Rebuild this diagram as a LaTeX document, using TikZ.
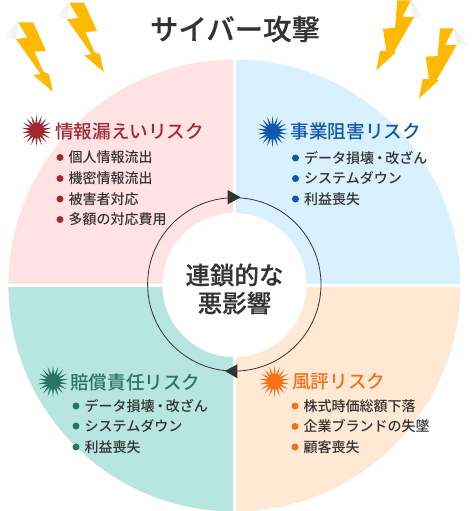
\documentclass[tikz,border=0pt]{standalone}
\usepackage{fontspec}
\usetikzlibrary{shapes.geometric}
\setmainfont{Noto Sans CJK JP}
\newfontfamily\medfont{Noto Sans CJK JP Medium}
\newfontfamily\heavyfont[FakeBold=0.3]{Noto Sans CJK JP Medium}
\definecolor{pinkq}{HTML}{FFE3E4}
\definecolor{blueq}{HTML}{D9F1FC}
\definecolor{tealq}{HTML}{B7E5DF}
\definecolor{peachq}{HTML}{FFE9D4}
\definecolor{redt}{HTML}{9E2A33}
\definecolor{bluet}{HTML}{1158A8}
\definecolor{greent}{HTML}{2A7463}
\definecolor{oranget}{HTML}{F5701B}
\definecolor{ink}{HTML}{333333}
\definecolor{bolt}{HTML}{FFB900}
\tikzset{
  burst/.style={star,star points=18,star point ratio=2.3,fill=#1,draw=none,minimum size=31pt,inner sep=0pt},
  heading/.style={anchor=west,inner sep=0pt,text=#1,font=\medfont\fontsize{18.6pt}{20pt}\selectfont},
  dotmark/.style={circle,fill=#1,draw=none,minimum size=7pt,inner sep=0pt},
  rowtext/.style={anchor=west,inner sep=0pt,text=ink,font=\medfont\fontsize{14pt}{16pt}\selectfont},
  boltshape/.style={fill=bolt,draw=none},
  tip/.style={fill=ink,draw=none},
  ring/.style={draw=ink,line width=.8pt}
}
\newcommand{\riskrow}[6]{%
  \node[dotmark=#4] (#1d) at (#2,#3) {};
  \node[rowtext] (#1t) at (#2+8.5,#3) {#5};
}
\begin{document}
\begin{tikzpicture}[x=1pt,y=-1pt]
\useasboundingbox (0,0) rectangle (474,511);
\fill[white] (0,0) rectangle (474,511);
\begin{scope}
\clip (0,0) rectangle (474,511);
% shadows of bolts
\shade[left color=black!0,right color=black!7] (3,37) -- (18,22) -- (16,39) -- cycle;
\shade[left color=black!0,right color=black!7] (54,17) -- (69,3) -- (67,19) -- cycle;
\shade[left color=black!7,right color=black!0] (411,0) -- (426,20) -- (413,17) -- cycle;
\shade[left color=black!7,right color=black!0] (453.7,28) -- (472,47) -- (457,45) -- cycle;
% quadrants
\fill[pinkq] (234.4,285.5) -- (8.4,285.5) arc[start angle=180,end angle=270,radius=226] -- cycle;
\fill[blueq] (234.4,285.5) -- (234.4,59.5) arc[start angle=270,end angle=360,radius=226] -- cycle;
\fill[peachq] (234.4,285.5) -- (460.4,285.5) arc[start angle=0,end angle=90,radius=226] -- cycle;
\fill[tealq] (234.4,285.5) -- (234.4,511.5) arc[start angle=90,end angle=180,radius=226] -- cycle;
\fill[white] (232.8,50) rectangle (236,511);
\fill[white] (0,283.6) rectangle (474,287.2);
\end{scope}
\node[circle,fill=white,draw=none,minimum size=144pt,inner sep=0pt] (hub) at (234.4,285) {};
% bolts
\fill[boltshape] (18.3,22.3) -- (33,22.3) -- (46,50.7) -- (34.5,51.7) -- (43.3,71.7) -- (49,74) -- (52.7,91.7) -- (33.3,75) -- (40.7,74) -- (16,39) -- (27.3,37.7) -- cycle;
\fill[boltshape] (69.3,2.7) -- (84,2.7) -- (97,31) -- (85.5,32) -- (94.3,52) -- (100,54.3) -- (103.7,72) -- (84.3,55.3) -- (91.7,54.3) -- (67,19.3) -- (78.3,18) -- cycle;
\fill[boltshape] (397.3,0.3) -- (411,0.3) -- (402.3,17) -- (414,17) -- (394,52) -- (396.3,52) -- (376.3,70.3) -- (380,51) -- (386.3,51) -- (383,28.7) -- (395,28) -- cycle;
\fill[boltshape] (440,28.3) -- (453.7,28.3) -- (445,45) -- (456.7,45) -- (436.7,80) -- (439,80) -- (419,98.3) -- (422.7,79) -- (429,79) -- (425.7,56.7) -- (437.7,56) -- cycle;
% title
\node[inner sep=0pt,text=ink,font=\heavyfont\fontsize{28.4pt}{30pt}\selectfont] (title) at (235,29) {サイバー攻撃};
% ring
\node[circle,ring,fill=none,minimum size=173.4pt,inner sep=0pt] (cycle) at (234.3,284.4) {};
\draw[tip,fill=ink] (227.7,190) -- (227.7,204.3) -- (240.7,197.3) -- cycle;
\draw[tip,fill=ink] (237.3,364.3) -- (237.3,378.3) -- (225,371) -- cycle;
% centre
\node[inner sep=0pt,text=ink,align=center,font=\heavyfont\fontsize{24.5pt}{28pt}\selectfont] (centre) at (234.5,289) {連鎖的な\\悪影響};
% red
\node[burst=redt] (s1) at (36.5,130.5) {};
\node[heading=redt] (h1) at (55,131) {情報漏えいリスク};
\riskrow{a}{60}{157.5}{redt}{個人情報流出}{}
\riskrow{b}{60}{178.5}{redt}{機密情報流出}{}
\riskrow{c}{60}{199}{redt}{被害者対応}{}
\riskrow{e}{60}{219.5}{redt}{多額の対応費用}{}
% blue
\node[burst=bluet] (s2) at (272.5,131.5) {};
\node[heading=bluet] (h2) at (290.5,131) {事業阻害リスク};
\riskrow{f}{295.5}{158}{bluet}{データ損壊\kern-.1em・\kern-.1em 改ざん}{}
\riskrow{g}{295.5}{178.5}{bluet}{システムダウン}{}
\riskrow{h}{295.5}{199}{bluet}{利益喪失}{}
% green
\node[burst=greent] (s3) at (53,381.5) {};
\node[heading=greent] (h3) at (70,382) {賠償責任リスク};
\riskrow{i}{76}{406}{greent}{データ損壊\kern-.1em・\kern-.1em 改ざん}{}
\riskrow{j}{76}{426}{greent}{システムダウン}{}
\riskrow{k}{76}{447}{greent}{利益喪失}{}
% orange
\node[burst=oranget] (s4) at (274.5,381.5) {};
\node[heading=oranget] (h4) at (292,382) {風評リスク};
\riskrow{l}{295}{406}{oranget}{株式時価総額下落}{}
\riskrow{m}{295}{426.5}{oranget}{企業ブランドの失墜}{}
\riskrow{n}{295}{447}{oranget}{顧客喪失}{}
\end{tikzpicture}
\end{document}
